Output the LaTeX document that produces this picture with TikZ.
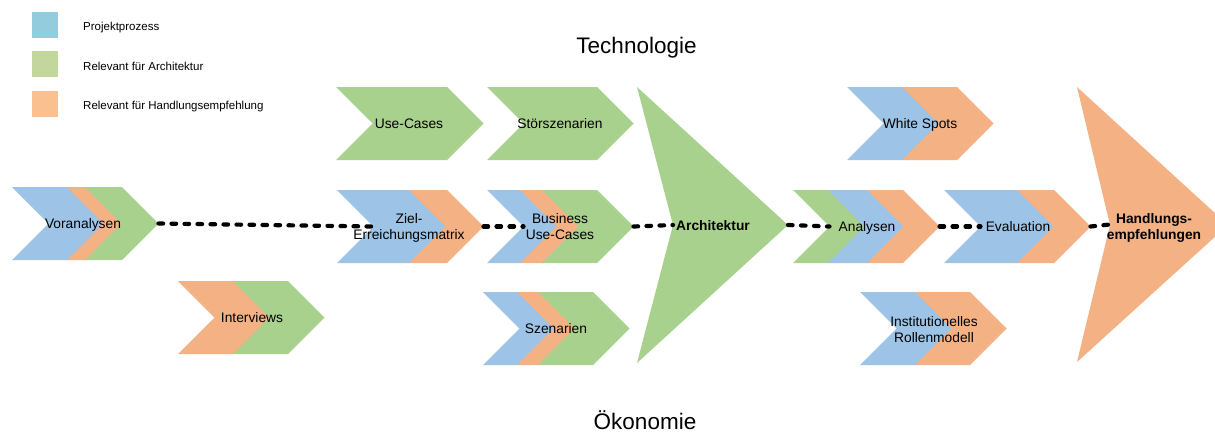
\documentclass[tikz,border=0pt]{standalone}
\usepackage{fontspec}
\setmainfont{Liberation Sans}
\definecolor{pblue}{HTML}{9DC3E6}
\definecolor{pgreen}{HTML}{A9D18E}
\definecolor{porange}{HTML}{F4B183}
\definecolor{lblue}{HTML}{93CDDD}
\definecolor{lgreen}{HTML}{C3D69B}
\definecolor{lorange}{HTML}{FAC090}

% one coloured chevron layer: colour, left x, right x (top corner), top y
\newcommand\chevlayer[4]{%
  \fill[#1] (#2,#4) -- (#3,#4) -- ++(36.5,36.5) -- ++(-36.5,36.5)
    -- (#2,#4+73) -- ++(36.5,-36.5) -- cycle;}
% entry (notch) and exit (tip) points of a chevron group: name, first left x, last right x, top y
\newcommand\chevports[4]{%
  \coordinate (#1-in) at (#2+36.5,#4+36.5);
  \coordinate (#1-out) at (#3+36.5,#4+36.5);}

\tikzset{
  lbl/.style={font=\fontsize{13.8}{16}\selectfont, anchor=base, inner sep=0pt},
  blbl/.style={lbl, font=\fontsize{13.8}{16}\selectfont\bfseries},
  legtext/.style={font=\fontsize{11.5}{14}\selectfont, anchor=base west, inner sep=0pt},
  title/.style={font=\fontsize{22.5}{26}\selectfont, anchor=base, inner sep=0pt},
  flow/.style={line width=4.2pt, line cap=round, dash pattern=on 4.6pt off 8.4pt, black},
}

\begin{document}
\begin{tikzpicture}[x=1pt,y=-1pt]
\useasboundingbox (0,0) rectangle (1215,437);
\clip (0,0) rectangle (1215,437);

% legend
\fill[lblue]   (32,12) rectangle (58,38);
\fill[lgreen]  (32,51) rectangle (58,77);
\fill[lorange] (32,91) rectangle (58,117);
\node[legtext] (leg1) at (83,30)    {Projektprozess};
\node[legtext] (leg2) at (83,70)    {Relevant für Architektur};
\node[legtext] (leg3) at (83,109.5) {Relevant für Handlungsempfehlung};

% axis titles
\node[title] (tech) at (636.5,53) {Technologie};
\node[title] (oek)  at (645,429)  {Ökonomie};

% Voranalysen
\chevlayer{pblue}{12}{69}{187}
\chevlayer{porange}{67}{87}{187}
\chevlayer{pgreen}{85}{122}{187}
\chevports{vor}{12}{122}{187}

% Interviews
\chevlayer{porange}{178}{235}{281}
\chevlayer{pgreen}{233}{288}{281}

% Use-Cases, Störszenarien
\chevlayer{pgreen}{336}{447}{87}
\chevlayer{pgreen}{487}{597}{87}

% Ziel-Erreichungsmatrix
\chevlayer{pblue}{337}{411}{190}
\chevlayer{porange}{409}{447}{190}
\chevports{ziel}{337}{447}{190}

% Business Use-Cases
\chevlayer{pblue}{487}{522}{190}
\chevlayer{porange}{520}{544}{190}
\chevlayer{pgreen}{542}{597}{190}
\chevports{bus}{487}{597}{190}

% Szenarien
\chevlayer{pblue}{483}{519}{292}
\chevlayer{porange}{517}{540}{292}
\chevlayer{pgreen}{538}{593}{292}

% Architektur
\fill[pgreen] (637,87) -- (788,225) -- (637,363) -- (673,225) -- cycle;
\coordinate (arch-in)  at (673,225);
\coordinate (arch-out) at (788,225);

% White Spots
\chevlayer{pblue}{847}{904}{87}
\chevlayer{porange}{902}{957}{87}

% Analysen
\chevlayer{pgreen}{793}{830}{190}
\chevlayer{pblue}{828}{869}{190}
\chevlayer{porange}{867}{903}{190}
\chevports{ana}{793}{903}{190}

% Evaluation
\chevlayer{pblue}{944}{1019}{190}
\chevlayer{porange}{1017}{1054}{190}
\chevports{eva}{944}{1054}{190}

% Institutionelles Rollenmodell
\chevlayer{pblue}{860}{917}{292}
\chevlayer{porange}{915}{970}{292}

% Handlungsempfehlungen
\fill[porange] (1077,87) -- (1228,225) -- (1077,362) -- (1110,225) -- cycle;
\coordinate (hand-in) at (1110,224.5);

% process flow
\draw[flow] (vor-out)  -- (ziel-in);
\draw[flow] (ziel-out) -- (bus-in);
\draw[flow] (bus-out)  -- (arch-in);
\draw[flow] (arch-out) -- (ana-in);
\draw[flow] (ana-out)  -- (eva-in);
\draw[flow] (eva-out)  -- (hand-in);

% labels
\node[lbl] (t-vor)  at (83,228)  {Voranalysen};
\node[lbl] (t-int)  at (252,322) {Interviews};
\node[lbl] (t-uc)   at (409,128) {Use-Cases};
\node[lbl] (t-stoer) at (560,128) {Störszenarien};
\node[lbl] (t-ziel) at (409,223) {\begin{tabular}[t]{@{}c@{}}Ziel-\\Erreichungsmatrix\end{tabular}};
\node[lbl] (t-bus)  at (560,223) {\begin{tabular}[t]{@{}c@{}}Business\\Use-Cases\end{tabular}};
\node[lbl] (t-szen) at (556,333) {Szenarien};
\node[blbl] (t-arch) at (713,230) {Architektur};
\node[lbl] (t-ws)   at (920,128) {White Spots};
\node[lbl] (t-ana)  at (867,231) {Analysen};
\node[lbl] (t-eva)  at (1018,231) {Evaluation};
\node[lbl] (t-inst) at (934,326) {\begin{tabular}[t]{@{}c@{}}Institutionelles\\Rollenmodell\end{tabular}};
\node[blbl] (t-hand) at (1154,223) {\begin{tabular}[t]{@{}c@{}}Handlungs-\\empfehlungen\end{tabular}};
\end{tikzpicture}
\end{document}
